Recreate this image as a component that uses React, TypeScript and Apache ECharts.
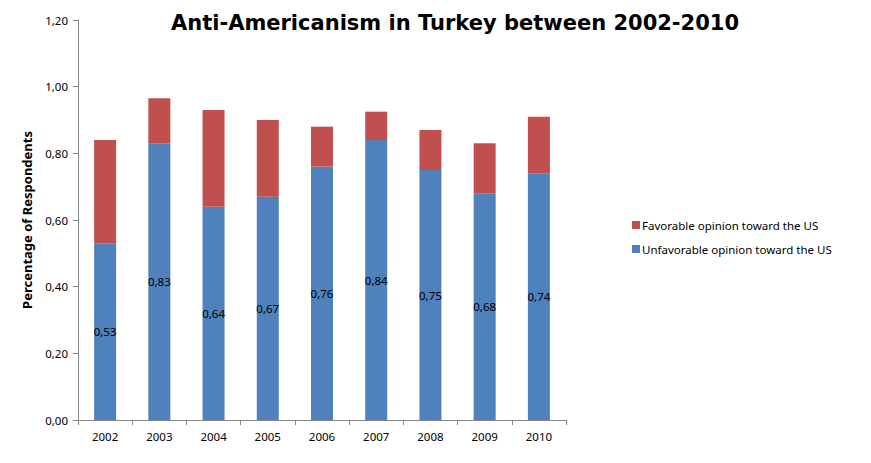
import React, { useEffect, useRef } from "react";
import * as echarts from "echarts";

const years = ["2002", "2003", "2004", "2005", "2006", "2007", "2008", "2009", "2010"];
const unfavorable = [0.53, 0.83, 0.64, 0.67, 0.76, 0.84, 0.75, 0.68, 0.74];
const favorable = [0.31, 0.135, 0.29, 0.23, 0.12, 0.085, 0.12, 0.15, 0.17];
const seriesNames = ["Favorable opinion toward the US", "Unfavorable opinion toward the US"];
const titleText = "Anti-Americanism in Turkey between 2002-2010";
const yAxisTitle = "Percentage of Respondents";

const fmt = (v: number) => v.toFixed(2).replace(".", ",");

export default function App() {
  const ref = useRef<HTMLDivElement>(null);
  useEffect(() => {
    document.body.style.margin = "0";
    const chart = echarts.init(ref.current!, null, { renderer: "svg" });
    const baseFont = "Noto Sans";
    chart.setOption({
      animation: false,
      backgroundColor: "#ffffff",
      title: {
        text: titleText,
        left: 450,
        textAlign: "center",
        top: 7,
        textStyle: { fontFamily: "DejaVu Sans", fontWeight: "bold", fontSize: 21, color: "#000" },
      },
      legend: {
        orient: "vertical",
        left: 627,
        top: 214,
        itemWidth: 8,
        itemHeight: 8,
        itemGap: 12,
        icon: "rect",
        data: seriesNames,
        textStyle: { fontFamily: baseFont, fontSize: 11.5, color: "#000", padding: [0, 0, 0, -3] },
      },
      grid: { left: 78, top: 20, right: 305, bottom: 43, containLabel: false },
      xAxis: {
        type: "category",
        data: years,
        axisLine: { lineStyle: { color: "#868686" } },
        axisTick: { show: true, length: 5, lineStyle: { color: "#868686" } },
        axisLabel: { fontFamily: baseFont, fontSize: 11.5, color: "#000", margin: 10 },
      },
      yAxis: {
        type: "value",
        min: 0,
        max: 1.2,
        interval: 0.2,
        name: yAxisTitle,
        nameLocation: "middle",
        nameGap: 45,
        nameTextStyle: { fontFamily: baseFont, fontWeight: "bold", fontSize: 13, color: "#000" },
        axisLine: { show: true, lineStyle: { color: "#868686" } },
        axisTick: { show: true, length: 5, lineStyle: { color: "#868686" } },
        splitLine: { show: false },
        axisLabel: { fontFamily: baseFont, fontSize: 11.5, color: "#000", margin: 10, formatter: (v: number) => fmt(v) },
      },
      series: [
        {
          name: seriesNames[1],
          type: "bar",
          stack: "s",
          data: unfavorable,
          barWidth: 22,
          itemStyle: { color: "#4F81BD" },
          label: {
            show: true,
            position: "inside",
            fontFamily: baseFont,
            fontSize: 11.5,
            color: "#000",
            formatter: (p: any) => fmt(p.value),
          },
        },
        {
          name: seriesNames[0],
          type: "bar",
          stack: "s",
          data: favorable,
          barWidth: 22,
          itemStyle: { color: "#C0504D" },
        },
      ],
    });
    return () => chart.dispose();
  }, []);
  return <div ref={ref} style={{ width: 871, height: 463 }} />;
}
